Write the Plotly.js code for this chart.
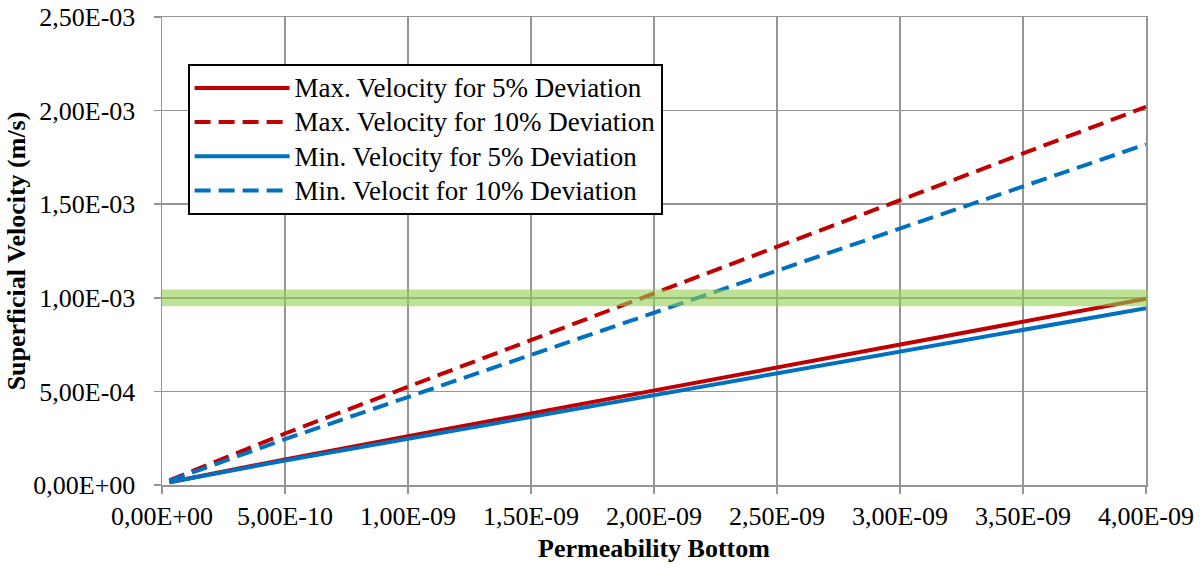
<!DOCTYPE html>
<html>
<head>
<meta charset="utf-8">
<script src="https://cdn.plot.ly/plotly-3.0.1.min.js"></script>
<style>html,body{margin:0;padding:0;background:#fff;}#chart{width:1203px;height:572px;}</style>
</head>
<body>
<div id="chart"></div>
<script>
// Data
const permeability = [3e-11, 5e-10, 1e-9, 1.5e-9, 2e-9, 2.5e-9, 3e-9, 3.5e-9, 4e-9];
const maxVel5 = [1.5e-5, 1.37e-4, 2.6e-4, 3.83e-4, 5.05e-4, 6.28e-4, 7.5e-4, 8.73e-4, 9.95e-4];
const maxVel10 = [2.5e-5, 2.75e-4, 5.25e-4, 7.75e-4, 1.02e-3, 1.27e-3, 1.52e-3, 1.77e-3, 2.02e-3];
const minVel5 = [1.5e-5, 1.31e-4, 2.47e-4, 3.63e-4, 4.8e-4, 5.96e-4, 7.13e-4, 8.29e-4, 9.45e-4];
const minVel10 = [2.2e-5, 2.45e-4, 4.7e-4, 6.95e-4, 9.2e-4, 1.145e-3, 1.37e-3, 1.595e-3, 1.82e-3];
const seriesNames = ["Max. Velocity for 5% Deviation", "Max. Velocity for 10% Deviation",
                     "Min. Velocity for 5% Deviation", "Min. Velocit for 10% Deviation"];
const xTickVals = [0, 5e-10, 1e-9, 1.5e-9, 2e-9, 2.5e-9, 3e-9, 3.5e-9, 4e-9];
const xTickText = ["0,00E+00", "5,00E-10", "1,00E-09", "1,50E-09", "2,00E-09", "2,50E-09", "3,00E-09", "3,50E-09", "4,00E-09"];
const yTickVals = [0, 5e-4, 1e-3, 1.5e-3, 2e-3, 2.5e-3];
const yTickText = ["0,00E+00", "5,00E-04", "1,00E-03", "1,50E-03", "2,00E-03", "2,50E-03"];
const bandLow = 0.955e-3, bandHigh = 1.045e-3;

const red = "#C00000", blue = "#0070C0";
const dash = "16px,8px";
function tr(y, name, color, d) {
  return {x: permeability, y: y, name: '<span style="font-size:27px">' + name + '</span>',
          type: "scatter", mode: "lines",
          line: {color: color, width: 4, dash: d}};
}
const data = [
  tr(maxVel5, seriesNames[0], red, "solid"),
  tr(maxVel10, seriesNames[1], red, dash),
  tr(minVel5, seriesNames[2], blue, "solid"),
  tr(minVel10, seriesNames[3], blue, dash)
];
const fontFam = "'Liberation Serif', 'Times New Roman', serif";
const axisCommon = {
  showgrid: true, gridcolor: "#959595", gridwidth: 1.5,
  showline: true, linecolor: "#959595", linewidth: 1.5, mirror: true,
  ticks: "outside", ticklen: 7, tickcolor: "#959595", tickwidth: 1.5,
  zeroline: false, tickfont: {family: fontFam, size: 26, color: "#000"}
};
const layout = {
  width: 1203, height: 572,
  margin: {l: 162, r: 57, t: 17, b: 87},
  paper_bgcolor: "#fff", plot_bgcolor: "#fff",
  font: {family: fontFam, color: "#000"},
  showlegend: true,
  legend: {x: 0.026, y: 0.9, xanchor: "left", yanchor: "top",
           bgcolor: "#fff", bordercolor: "#000", borderwidth: 2,
           font: {family: fontFam, size: 24, color: "#000"},
           itemwidth: 95, traceorder: "normal"},
  xaxis: Object.assign({}, axisCommon, {
    range: [0, 4e-9], tickvals: xTickVals, ticktext: xTickText,
    title: {text: "<b>Permeability Bottom</b>", font: {family: fontFam, size: 26, color: "#000"}, standoff: 9}
  }),
  yaxis: Object.assign({}, axisCommon, {
    range: [0, 2.5e-3], tickvals: yTickVals,
    ticktext: yTickText.map(t => t + "\u00a0\u00a0"),
    title: {text: "<b>Superficial Velocity (m/s)</b>", font: {family: fontFam, size: 26, color: "#000"}, standoff: 0}
  }),
  shapes: [{type: "rect", xref: "paper", yref: "y", x0: 0, x1: 1.002, y0: bandLow, y1: bandHigh,
            fillcolor: "rgb(146,208,80)", opacity: 0.6, line: {width: 0}, layer: "above"}]
};
Plotly.newPlot("chart", data, layout, {displayModeBar: false, staticPlot: true});
</script>
</body>
</html>
